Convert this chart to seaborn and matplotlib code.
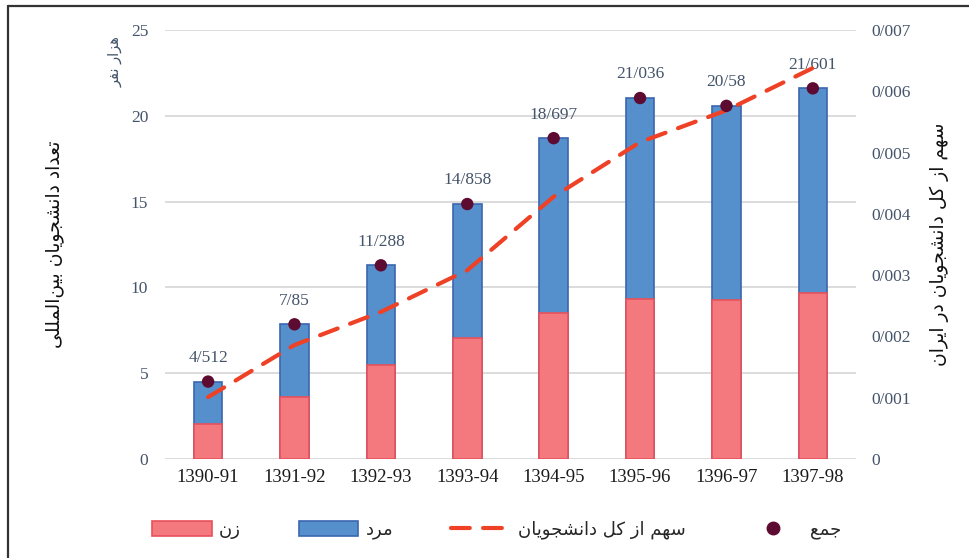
import numpy as np
import pandas as pd
import matplotlib
matplotlib.use("Agg")
import matplotlib.pyplot as plt
from matplotlib.patches import Patch
from matplotlib.lines import Line2D
import seaborn as sns

# values (thousand persons / share of all students)
years = ["1390-91", "1391-92", "1392-93", "1393-94",
         "1394-95", "1395-96", "1396-97", "1397-98"]
totals = [4.512, 7.85, 11.288, 14.858, 18.697, 21.036, 20.58, 21.601]
women = [2.05, 3.62, 5.48, 7.05, 8.5, 9.32, 9.27, 9.68]
share = [0.00101, 0.00186, 0.00240, 0.00308, 0.00428, 0.00517, 0.00569, 0.00638]
total_labels = ["4/512", "7/85", "11/288", "14/858",
                "18/697", "21/036", "20/58", "21/601"]
left_ticks = [0, 5, 10, 15, 20, 25]
right_ticks = [0, 0.001, 0.002, 0.003, 0.004, 0.005, 0.006, 0.007]
right_tick_labels = ["0", "0/001", "0/002", "0/003", "0/004", "0/005", "0/006", "0/007"]

title_left = "تعداد دانشجویان بین\u200cالمللی"
title_right = "سهم از کل دانشجویان در ایران"
unit_text = "هزار نفر"
legend_names = ["زن", "مرد", "سهم از کل دانشجویان", "جمع"]

PINK = "#F3797F"
PINK_EDGE = "#E8515A"
BLUE = "#5590CD"
BLUE_EDGE = "#3B66B0"
DOT = "#5E0B32"
RED = "#EE4126"
SLATE = "#44546A"

# matplotlib has no Arabic shaping, so map letters to presentation forms
# (isolated, final, initial, medial) and reverse to visual order
FORMS = {
    "ا": ("\uFE8D", "\uFE8E", None, None),
    "ب": ("\uFE8F", "\uFE90", "\uFE91", "\uFE92"),
    "ت": ("\uFE95", "\uFE96", "\uFE97", "\uFE98"),
    "ج": ("\uFE9D", "\uFE9E", "\uFE9F", "\uFEA0"),
    "د": ("\uFEA9", "\uFEAA", None, None),
    "ر": ("\uFEAD", "\uFEAE", None, None),
    "ز": ("\uFEAF", "\uFEB0", None, None),
    "س": ("\uFEB1", "\uFEB2", "\uFEB3", "\uFEB4"),
    "ش": ("\uFEB5", "\uFEB6", "\uFEB7", "\uFEB8"),
    "ع": ("\uFEC9", "\uFECA", "\uFECB", "\uFECC"),
    "ف": ("\uFED1", "\uFED2", "\uFED3", "\uFED4"),
    "ک": ("\uFED9", "\uFEDA", "\uFEDB", "\uFEDC"),
    "ل": ("\uFEDD", "\uFEDE", "\uFEDF", "\uFEE0"),
    "م": ("\uFEE1", "\uFEE2", "\uFEE3", "\uFEE4"),
    "ن": ("\uFEE5", "\uFEE6", "\uFEE7", "\uFEE8"),
    "ه": ("\uFEE9", "\uFEEA", "\uFEEB", "\uFEEC"),
    "و": ("\uFEED", "\uFEEE", None, None),
    "ی": ("\uFEEF", "\uFEF0", "\uFEF3", "\uFEF4"),
}


def rtl(text):
    out = []
    prev_joins = False
    i = 0
    while i < len(text):
        c = text[i]
        if c not in FORMS:
            if c != "\u200c":
                out.append(c)
            prev_joins = False
            i += 1
            continue
        nxt = text[i + 1] if i + 1 < len(text) else ""
        if c == "ل" and nxt == "ا":
            out.append("\uFEFC" if prev_joins else "\uFEFB")
            prev_joins = False
            i += 2
            continue
        iso, fin, ini, med = FORMS[c]
        dual = ini is not None
        next_ok = dual and nxt in FORMS
        if prev_joins and next_ok:
            out.append(med)
        elif prev_joins:
            out.append(fin)
        elif next_ok:
            out.append(ini)
        else:
            out.append(iso)
        prev_joins = dual
        i += 1
    return "".join(out)[::-1]


sns.set_theme(style="white")
plt.rcParams["font.family"] = ["Liberation Serif", "DejaVu Sans"]
AR = ["DejaVu Sans"]

df = pd.DataFrame({"year": years, "total": totals, "women": women, "share": share})

fig = plt.figure(figsize=(9.7, 5.58), dpi=100)
ax = fig.add_axes([0.170, 0.1774, 0.7125, 0.7688])

sns.barplot(data=df, x="year", y="total", ax=ax, width=0.33, color=BLUE,
            saturation=1, edgecolor=BLUE_EDGE, linewidth=1.2, zorder=2)
sns.barplot(data=df, x="year", y="women", ax=ax, width=0.33, color=PINK,
            saturation=1, edgecolor=PINK_EDGE, linewidth=1.2, zorder=2)
sns.scatterplot(x=np.arange(len(years)), y=totals, ax=ax, color=DOT, s=80,
                edgecolor="none", zorder=5)

for i, (t, lab) in enumerate(zip(totals, total_labels)):
    ax.annotate(lab, (i, t), xytext=(0, 17), textcoords="offset points",
                ha="center", va="center", fontsize=12.5, color=SLATE)

ax.set_xlim(-0.5, len(years) - 0.5)
ax.set_ylim(0, 25)
ax.set_yticks(left_ticks)
ax.yaxis.grid(True, color="#D9D9D9", linewidth=1.3)
ax.set_axisbelow(True)
ax.set_xlabel("")
ax.set_ylabel("")
ax.tick_params(axis="y", length=0, pad=12, labelsize=12.5, labelcolor=SLATE)
ax.tick_params(axis="x", length=0, pad=7, labelsize=13.5, labelcolor="#1a1a1a")
for s in ax.spines.values():
    s.set_visible(False)

# secondary axis for the share of all students
ax2 = ax.twinx()
ax2.set_ylim(0, 0.007)
ax2.set_yticks(right_ticks)
ax2.set_yticklabels(right_tick_labels)
ax2.tick_params(axis="y", length=0, pad=11, labelsize=12.5, labelcolor=SLATE)
ax2.grid(False)
for s in ax2.spines.values():
    s.set_visible(False)
ax.set_zorder(ax2.get_zorder() + 1)
ax.patch.set_visible(False)

# draw the dashed line in the front axes but with the secondary scale
sns.lineplot(x=np.arange(len(years)), y=share, ax=ax, color=RED, linewidth=3,
             transform=ax2.transData, zorder=4)
line = ax.lines[-1]
line.set_dashes((4.5, 3.2))
line.set_dash_capstyle("round")
ax.set_ylim(0, 25)
ax.set_ylabel("")

fig.text(55 / 970, 1 - 244 / 558, rtl(title_left), rotation=90, ha="center",
         va="center", fontsize=13.5, family=AR, color="#111111")
fig.text(939 / 970, 1 - 244 / 558, rtl(title_right), rotation=90, ha="center",
         va="center", fontsize=13.5, family=AR, color="#111111")
fig.text(115 / 970, 1 - 62 / 558, rtl(unit_text), rotation=90, ha="center",
         va="center", fontsize=10.5, family=AR, color=SLATE)

handles = [
    Patch(facecolor=PINK, edgecolor=PINK_EDGE, linewidth=1.2),
    Patch(facecolor=BLUE, edgecolor=BLUE_EDGE, linewidth=1.2),
    Line2D([], [], color=RED, linewidth=3, dashes=(4.5, 3.2), dash_capstyle="round"),
    Line2D([], [], color=DOT, marker="o", markersize=9, linestyle="none"),
]
leg = fig.legend(handles, [rtl(n) for n in legend_names], loc="center",
                 bbox_to_anchor=(0.512, 1 - 530 / 558), ncol=4, frameon=False,
                 handlelength=3.3, handleheight=0.9, handletextpad=0.4,
                 columnspacing=3.2, prop={"family": AR, "size": 13})

# outer frame (clipped on the right and bottom in the reference)
y_top = 1 - 6 / 558
x_left = 8 / 970
fig.add_artist(Line2D([x_left, x_left], [0, y_top], color="#333333", linewidth=1.6))
fig.add_artist(Line2D([x_left, 1], [y_top, y_top], color="#333333", linewidth=1.6))

fig.savefig("out.png", dpi=100)
